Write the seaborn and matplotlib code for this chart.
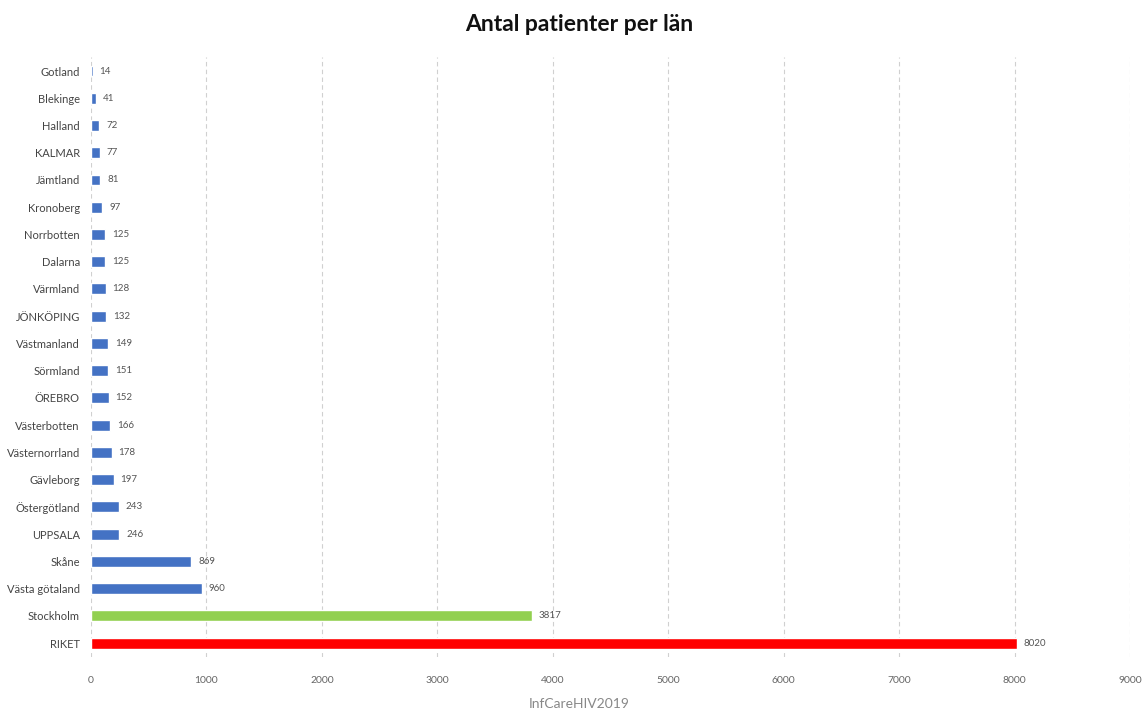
import pandas as pd
import seaborn as sns
import matplotlib.pyplot as plt

lan = ["Gotland", "Blekinge", "Halland", "KALMAR", "Jämtland", "Kronoberg",
       "Norrbotten", "Dalarna", "Värmland", "JÖNKÖPING", "Västmanland",
       "Sörmland", "ÖREBRO", "Västerbotten", "Västernorrland", "Gävleborg",
       "Östergötland", "UPPSALA", "Skåne", "Västa götaland", "Stockholm", "RIKET"]
patienter = [14, 41, 72, 77, 81, 97, 125, 125, 128, 132, 149, 151, 152, 166,
             178, 197, 243, 246, 869, 960, 3817, 8020]
farg = ["#4472C4"] * 20 + ["#92D050", "#FF0000"]

data = pd.DataFrame({"lan": lan, "patienter": patienter})

sns.set_style("white")
plt.rcParams['font.family'] = ['Lato', 'DejaVu Sans']

fig = plt.figure(figsize=(11.47, 7.13), dpi=100)
ax = fig.add_axes([0.0793, 0.079, 0.906, 0.8405])

sns.barplot(data=data, x="patienter", y="lan", hue="lan",
            palette=dict(zip(lan, farg)), order=lan, orient="h",
            width=0.4, saturation=1, legend=False, ax=ax)

# value labels
for i, v in enumerate(patienter):
    ax.text(v + 60, i, str(v), va="center", ha="left", fontsize=7, color="#555555")

ax.set_xlim(0, 9000)
ax.set_xticks(range(0, 9001, 1000))
ax.grid(axis="x", linestyle=(0, (4, 3)), color="#d0d0d0", linewidth=0.8)
ax.set_axisbelow(True)
sns.despine(ax=ax, left=True, bottom=True)
ax.tick_params(axis="x", labelsize=7.5, colors="#666666", length=0, pad=14)
ax.tick_params(axis="y", labelsize=8, colors="#444444", length=0, pad=8)
ax.set_xlabel("")
ax.set_ylabel("")

fig.text(0.505, 0.965, "Antal patienter per län", ha="center", va="center",
         fontsize=16.5, fontweight="bold", color="#111111")
fig.text(0.505, 0.012, "InfCareHIV2019", ha="center", va="center",
         fontsize=10, color="#888888")

plt.savefig("out.png", dpi=100)
